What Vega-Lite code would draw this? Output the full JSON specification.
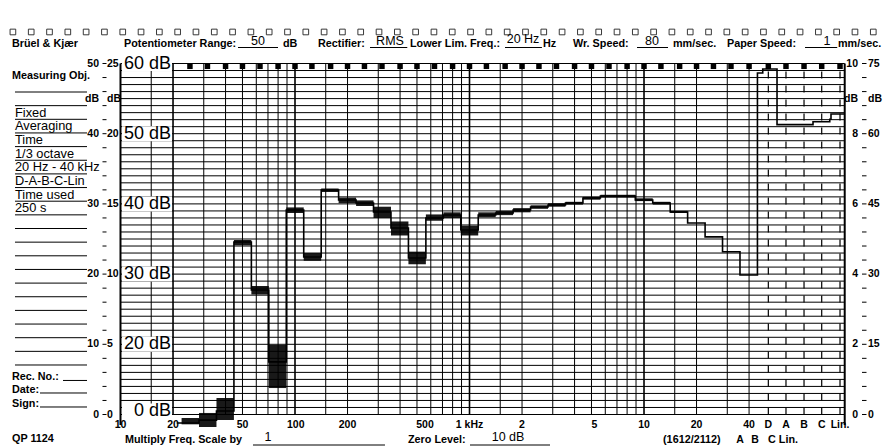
{
"$schema":"https://vega.github.io/schema/vega-lite/v6.json",
"width":890,"height":446,
"autosize":{"type":"fit","contains":"padding"},
"padding":0,
"background":"white",
"config":{"view":{"stroke":null},"axis":{"disable":true},"text":{"font":"Liberation Sans","color":"#000"}},
"datasets":{
"holes":[{"i":0},{"i":1},{"i":2},{"i":3},{"i":4},{"i":5},{"i":6},{"i":7},{"i":8},{"i":9},{"i":10},{"i":11},{"i":12},{"i":13},{"i":14},{"i":15},{"i":16},{"i":17},{"i":18},{"i":19},{"i":20},{"i":21},{"i":22},{"i":23},{"i":24},{"i":25},{"i":26},{"i":27},{"i":28},{"i":29},{"i":30},{"i":31},{"i":32},{"i":33},{"i":34},{"i":35},{"i":36},{"i":37},{"i":38},{"i":39},{"i":40},{"i":41},{"i":42},{"i":43},{"i":44},{"i":45},{"i":46},{"i":47}],
"hlines":[{"db":10},{"db":11},{"db":12},{"db":13},{"db":14},{"db":15},{"db":16},{"db":17},{"db":18},{"db":19},{"db":20},{"db":21},{"db":22},{"db":23},{"db":24},{"db":25},{"db":26},{"db":27},{"db":28},{"db":29},{"db":30},{"db":31},{"db":32},{"db":33},{"db":34},{"db":35},{"db":36},{"db":37},{"db":38},{"db":39},{"db":40},{"db":41},{"db":42},{"db":43},{"db":44},{"db":45},{"db":46},{"db":47},{"db":48},{"db":49},{"db":50},{"db":51},{"db":52},{"db":53},{"db":54},{"db":55},{"db":56},{"db":57},{"db":58},{"db":59},{"db":60}],
"vminor":[{"f":15},{"f":30},{"f":40},{"f":50},{"f":60},{"f":70},{"f":80},{"f":90},{"f":150},{"f":200},{"f":300},{"f":400},{"f":500},{"f":600},{"f":700},{"f":800},{"f":900},{"f":1500},{"f":2000},{"f":3000},{"f":4000},{"f":5000},{"f":6000},{"f":7000},{"f":8000},{"f":9000},{"f":15000},{"f":20000},{"f":30000},{"f":40000}],
"vmajor":[{"f":20},{"f":100},{"f":1000},{"f":10000}],
"vedge":[{"f":10},{"f":141300}],
"dashed":[{"f":51570},{"f":65100},{"f":82600},{"f":104300},{"f":132800}],
"marks":[{"fc":25},{"fc":31.5},{"fc":40},{"fc":50},{"fc":63},{"fc":80},{"fc":100},{"fc":125},{"fc":160},{"fc":200},{"fc":250},{"fc":315},{"fc":400},{"fc":500},{"fc":630},{"fc":800},{"fc":1000},{"fc":1250},{"fc":1600},{"fc":2000},{"fc":2500},{"fc":3150},{"fc":4000},{"fc":5000},{"fc":6300},{"fc":8000},{"fc":10000},{"fc":12500},{"fc":16000},{"fc":20000},{"fc":25000},{"fc":31500},{"fc":40000},{"fc":51570},{"fc":65100},{"fc":82600},{"fc":104300},{"fc":132800}],
"biglabels":[{"db":60,"t":"60 dB"},{"db":50,"t":"50 dB"},{"db":40,"t":"40 dB"},{"db":30,"t":"30 dB"},{"db":20,"t":"20 dB"},{"db":10.5,"t":"0 dB"}],
"ticks":[{"db":10},{"db":12},{"db":14},{"db":16},{"db":18},{"db":20},{"db":22},{"db":24},{"db":26},{"db":28},{"db":30},{"db":32},{"db":34},{"db":36},{"db":38},{"db":40},{"db":42},{"db":44},{"db":46},{"db":48},{"db":50},{"db":52},{"db":54},{"db":56},{"db":58},{"db":60}],
"scaleL":[{"db":60,"a":"50","b":"25"},{"db":55,"a":"dB","b":"dB"},{"db":50,"a":"40","b":"20"},{"db":40,"a":"30","b":"15"},{"db":30,"a":"20","b":"10"},{"db":20,"a":"10","b":"5"},{"db":10,"a":"0","b":"0"}],
"scaleR":[{"db":60,"a":"10","b":"75"},{"db":55,"a":"dB","b":"dB"},{"db":50,"a":"8","b":"60"},{"db":40,"a":"6","b":"45"},{"db":30,"a":"4","b":"30"},{"db":20,"a":"2","b":"15"},{"db":10,"a":"0","b":"0"}],
"boldL":[{"t":"Brüel & Kjær","f":2.3891,"db":62.308},{"t":"Potentiometer Range:","f":10.473,"db":62.308},{"t":"dB","f":85.34,"db":62.308},{"t":"Rectifier:","f":135.49,"db":62.308},{"t":"Lower Lim. Freq.:","f":456.1,"db":62.308},{"t":"Hz","f":2637.5,"db":62.308},{"t":"Wr. Speed:","f":3918.5,"db":62.308},{"t":"mm/sec.","f":14661,"db":62.308},{"t":"Paper Speed:","f":29900,"db":62.308},{"t":"mm/sec.","f":129340,"db":62.308},{"t":"Measuring Obj.","f":2.3891,"db":57.792},{"t":"Rec. No.:","f":2.3891,"db":14.915},{"t":"Date:","f":2.3891,"db":13.106},{"t":"Sign:","f":2.3891,"db":11.112},{"t":"QP 1124","f":2.3891,"db":6.083},{"t":"Multiply Freq. Scale by","f":10.611,"db":5.94},{"t":"Zero Level:","f":444.2,"db":5.94},{"t":"(1612/2112)","f":12852,"db":5.94},{"t":"C Lin.","f":51350,"db":5.94}],
"values":[{"t":"50","f":61.38,"db":62.635},{"t":"RMS","f":350.3,"db":62.635},{"t":"20 Hz","f":2026,"db":62.88},{"t":"80","f":11112,"db":62.635},{"t":"1","f":111870,"db":62.635},{"t":"1","f":70.0,"db":6.224},{"t":"10 dB","f":1661.9,"db":6.224}],
"column":[{"t":"Fixed","db":52.41},{"t":"Averaging","db":50.46},{"t":"Time","db":48.52},{"t":"1/3 octave","db":46.57},{"t":"20 Hz - 40 kHz","db":44.63},{"t":"D-A-B-C-Lin","db":42.69},{"t":"Time used","db":40.74},{"t":"250 s","db":38.80}],
"xlabels":[{"t":"10","f":10,"db":8.077},{"t":"20","f":20,"db":8.077},{"t":"50","f":50,"db":8.077},{"t":"100","f":101,"db":8.077},{"t":"200","f":200,"db":8.077},{"t":"500","f":556,"db":8.077},{"t":"1 kHz","f":1000,"db":8.077},{"t":"2","f":2000,"db":8.077},{"t":"5","f":5200,"db":8.077},{"t":"10","f":10000,"db":8.077},{"t":"20","f":20000,"db":8.077},{"t":"40","f":40000,"db":8.077},{"t":"D","f":51570,"db":8.077},{"t":"A","f":65100,"db":8.077},{"t":"B","f":82600,"db":8.077},{"t":"C","f":104300,"db":8.077},{"t":"Lin.","f":132800,"db":8.077},{"t":"A","f":35490,"db":5.94},{"t":"B","f":43262,"db":5.94}],
"ul":[{"x1":47.14,"x2":79.92,"db":62.279},{"x1":268.99,"x2":440,"db":62.279},{"x1":1597.5,"x2":2600,"db":62.279},{"x1":9119,"x2":13727,"db":62.279},{"x1":83693,"x2":128000,"db":62.279},{"x1":57.45,"x2":327.8,"db":5.655},{"x1":1006.6,"x2":2893.1,"db":5.655},
{"x1":2.4855,"x2":6.428,"db":55.940},{"x1":2.4855,"x2":6.428,"db":53.996},{"x1":2.4855,"x2":6.428,"db":52.051},{"x1":2.4855,"x2":6.428,"db":50.107},{"x1":2.4855,"x2":6.428,"db":48.162},{"x1":2.4855,"x2":6.428,"db":46.218},{"x1":2.4855,"x2":6.428,"db":44.274},{"x1":2.4855,"x2":6.428,"db":42.329},{"x1":2.4855,"x2":6.428,"db":40.385},{"x1":2.4855,"x2":6.428,"db":38.440},{"x1":2.4855,"x2":6.428,"db":36.496},{"x1":2.4855,"x2":6.428,"db":34.552},{"x1":2.4855,"x2":6.428,"db":32.607},{"x1":2.4855,"x2":6.428,"db":30.663},{"x1":2.4855,"x2":6.428,"db":28.718},{"x1":2.4855,"x2":6.428,"db":26.774},{"x1":2.4855,"x2":6.428,"db":24.830},{"x1":2.4855,"x2":6.428,"db":22.885},{"x1":2.4855,"x2":6.428,"db":20.941},{"x1":2.4855,"x2":6.428,"db":18.996},{"x1":2.4855,"x2":6.428,"db":17.052},
{"x1":4.683,"x2":6.428,"db":14.85},{"x1":3.457,"x2":6.428,"db":13.063},{"x1":3.457,"x2":6.428,"db":11.07}],
"bands":[
{"i":0,"fl":21,"fh":22.39,"L":8.79,"lo":8.79,"hi":8.79},
{"i":1,"fl":22.39,"fh":28.18,"L":8.79,"lo":8.6,"hi":9.5},
{"i":2,"fl":28.18,"fh":35.48,"L":9.2,"lo":8.22,"hi":10.22},
{"i":3,"fl":35.48,"fh":44.67,"L":10.5,"lo":9.22,"hi":12.35},
{"i":4,"fl":44.67,"fh":56.23,"L":34.57,"lo":34.1,"hi":34.86},
{"i":5,"fl":56.23,"fh":70.79,"L":27.74,"lo":27.1,"hi":28.3},
{"i":6,"fl":70.79,"fh":89.13,"L":17.5,"lo":13.77,"hi":19.9},
{"i":7,"fl":89.13,"fh":112.2,"L":39.13,"lo":38.7,"hi":39.5},
{"i":8,"fl":112.2,"fh":141.3,"L":32.44,"lo":31.9,"hi":33.0},
{"i":9,"fl":141.3,"fh":177.8,"L":41.98,"lo":41.7,"hi":42.2},
{"i":10,"fl":177.8,"fh":223.9,"L":40.56,"lo":40.1,"hi":40.9},
{"i":11,"fl":223.9,"fh":281.8,"L":40.13,"lo":39.7,"hi":40.5},
{"i":12,"fl":281.8,"fh":354.8,"L":38.85,"lo":38.0,"hi":39.6},
{"i":13,"fl":354.8,"fh":446.7,"L":36.57,"lo":35.5,"hi":37.5},
{"i":14,"fl":446.7,"fh":562.3,"L":32.29,"lo":31.4,"hi":33.2},
{"i":15,"fl":562.3,"fh":707.9,"L":37.99,"lo":37.6,"hi":38.5},
{"i":16,"fl":707.9,"fh":891.3,"L":38.42,"lo":38.0,"hi":38.8},
{"i":17,"fl":891.3,"fh":1122,"L":36.28,"lo":35.5,"hi":36.9},
{"i":18,"fl":1122,"fh":1413,"L":38.42,"lo":38.1,"hi":38.8},
{"i":19,"fl":1413,"fh":1778,"L":38.7,"lo":38.4,"hi":39.0},
{"i":20,"fl":1778,"fh":2239,"L":39.13,"lo":38.8,"hi":39.4},
{"i":21,"fl":2239,"fh":2818,"L":39.56,"lo":39.3,"hi":39.8},
{"i":22,"fl":2818,"fh":3548,"L":39.84,"lo":39.6,"hi":40.1},
{"i":23,"fl":3548,"fh":4467,"L":40.13,"lo":39.9,"hi":40.3},
{"i":24,"fl":4467,"fh":5623,"L":40.84,"lo":40.6,"hi":41.0},
{"i":25,"fl":5623,"fh":7079,"L":41.13,"lo":40.9,"hi":41.3},
{"i":26,"fl":7079,"fh":8913,"L":41.13,"lo":40.9,"hi":41.3},
{"i":27,"fl":8913,"fh":11220,"L":40.56,"lo":40.4,"hi":40.8},
{"i":28,"fl":11220,"fh":14130,"L":40.13,"lo":39.9,"hi":40.3},
{"i":29,"fl":14130,"fh":17780,"L":38.85,"lo":38.7,"hi":39.0},
{"i":30,"fl":17780,"fh":22390,"L":37.28,"lo":37.28,"hi":37.28},
{"i":31,"fl":22390,"fh":28180,"L":35.3,"lo":35.3,"hi":35.3},
{"i":32,"fl":28180,"fh":35480,"L":33.19,"lo":33.19,"hi":33.19},
{"i":33,"fl":35480,"fh":44670,"L":29.87,"lo":29.87,"hi":29.87},
{"i":34,"fl":44670,"fh":47900,"L":58.65,"lo":58.65,"hi":58.65},
{"i":35,"fl":47900,"fh":57840,"L":59.22,"lo":59.22,"hi":59.22},
{"i":36,"fl":57840,"fh":93000,"L":51.3,"lo":51.3,"hi":51.3},
{"i":37,"fl":93000,"fh":116000,"L":51.71,"lo":51.71,"hi":51.71},
{"i":38,"fl":116000,"fh":117900,"L":52.05,"lo":52.05,"hi":52.05},
{"i":39,"fl":117900,"fh":141300,"L":52.81,"lo":52.81,"hi":52.81}
]
},
"resolve":{"scale":{"x":"independent"}},
"layer":[
{"data":{"name":"holes"},"mark":{"type":"point","shape":"M-1,-1H1V1H-1Z","filled":false,"stroke":"#222","strokeWidth":0.9,"size":32,"opacity":1},
 "encoding":{"x":{"field":"i","type":"quantitative","scale":{"domain":[-0.7047,47.913],"nice":false,"zero":false}},
 "y":{"datum":64.49,"type":"quantitative","scale":{"domain":[5.513,69.046],"nice":false,"zero":false}}}},
{"layer":[
{"mark":{"type":"rule","stroke":"#777","strokeWidth":1},"encoding":{"x":{"datum":2.3268,"type":"quantitative","scale":{"type":"log","domain":[2.0394,256830],"nice":false}},"x2":{"datum":245200},"y":{"datum":67.692,"type":"quantitative","scale":{"domain":[5.513,69.046],"nice":false,"zero":false}}}},
{"mark":{"type":"rule","stroke":"#000","strokeWidth":3},"encoding":{"x":{"datum":2.3268,"type":"quantitative","scale":{"type":"log","domain":[2.0394,256830],"nice":false}},"y":{"datum":67.692,"type":"quantitative","scale":{"domain":[5.513,69.046],"nice":false,"zero":false}},"y2":{"datum":5.513}}},
{"mark":{"type":"rule","stroke":"#000","strokeWidth":3},"encoding":{"x":{"datum":245200,"type":"quantitative","scale":{"type":"log","domain":[2.0394,256830],"nice":false}},"y":{"datum":67.692,"type":"quantitative","scale":{"domain":[5.513,69.046],"nice":false,"zero":false}},"y2":{"datum":5.513}}},
{"data":{"name":"hlines"},"mark":{"type":"rule","stroke":"#000","strokeWidth":1},"encoding":{"x":{"datum":10,"type":"quantitative","scale":{"type":"log","domain":[2.0394,256830],"nice":false}},"x2":{"datum":141300},"y":{"field":"db","type":"quantitative","scale":{"domain":[5.513,69.046],"nice":false,"zero":false}}}},
{"data":{"name":"vminor"},"mark":{"type":"rule","stroke":"#000","strokeWidth":1},"encoding":{"x":{"field":"f","type":"quantitative","scale":{"type":"log","domain":[2.0394,256830],"nice":false}},"y":{"datum":10,"type":"quantitative","scale":{"domain":[5.513,69.046],"nice":false,"zero":false}},"y2":{"datum":60}}},
{"data":{"name":"vmajor"},"mark":{"type":"rule","stroke":"#000","strokeWidth":1.6},"encoding":{"x":{"field":"f","type":"quantitative","scale":{"type":"log","domain":[2.0394,256830],"nice":false}},"y":{"datum":10,"type":"quantitative","scale":{"domain":[5.513,69.046],"nice":false,"zero":false}},"y2":{"datum":60}}},
{"data":{"name":"vedge"},"mark":{"type":"rule","stroke":"#000","strokeWidth":2},"encoding":{"x":{"field":"f","type":"quantitative","scale":{"type":"log","domain":[2.0394,256830],"nice":false}},"y":{"datum":8.504,"type":"quantitative","scale":{"domain":[5.513,69.046],"nice":false,"zero":false}},"y2":{"datum":60}}},
{"data":{"name":"dashed"},"mark":{"type":"rule","stroke":"#000","strokeWidth":1.2,"strokeDash":[7,7]},"encoding":{"x":{"field":"f","type":"quantitative","scale":{"type":"log","domain":[2.0394,256830],"nice":false}},"y":{"datum":10,"type":"quantitative","scale":{"domain":[5.513,69.046],"nice":false,"zero":false}},"y2":{"datum":59.217}}},
{"mark":{"type":"rule","stroke":"#000","strokeWidth":1.5},"encoding":{"x":{"datum":20,"type":"quantitative","scale":{"type":"log","domain":[2.0394,256830],"nice":false}},"x2":{"datum":141300},"y":{"datum":59.217,"type":"quantitative","scale":{"domain":[5.513,69.046],"nice":false,"zero":false}}}},
{"mark":{"type":"rule","stroke":"#000","strokeWidth":1.5},"encoding":{"x":{"datum":141300,"type":"quantitative","scale":{"type":"log","domain":[2.0394,256830],"nice":false}},"x2":{"datum":197290},"y":{"datum":8.504,"type":"quantitative","scale":{"domain":[5.513,69.046],"nice":false,"zero":false}}}},
{"data":{"name":"marks"},"mark":{"type":"point","shape":"M-1,-1H1V1H-1Z","filled":true,"fill":"#000","stroke":null,"size":30,"opacity":1},"encoding":{"x":{"field":"fc","type":"quantitative","scale":{"type":"log","domain":[2.0394,256830],"nice":false}},"y":{"datum":59.6,"type":"quantitative","scale":{"domain":[5.513,69.046],"nice":false,"zero":false}}}},
{"data":{"name":"biglabels"},"mark":{"type":"point","shape":"M-1,-0.3H1V0.3H-1Z","filled":true,"fill":"#fff","stroke":null,"size":2500,"opacity":1},"encoding":{"x":{"datum":14.188,"type":"quantitative","scale":{"type":"log","domain":[2.0394,256830],"nice":false}},"y":{"field":"db","type":"quantitative","scale":{"domain":[5.513,69.046],"nice":false,"zero":false}}}},
{"data":{"name":"biglabels"},"mark":{"type":"text","fontSize":18,"align":"right","baseline":"middle"},"encoding":{"x":{"datum":19.47,"type":"quantitative","scale":{"type":"log","domain":[2.0394,256830],"nice":false}},"y":{"field":"db","type":"quantitative","scale":{"domain":[5.513,69.046],"nice":false,"zero":false}},"text":{"field":"t"}}},
{"mark":{"type":"rule","stroke":"#000","strokeWidth":1},"encoding":{"x":{"datum":7.886,"type":"quantitative","scale":{"type":"log","domain":[2.0394,256830],"nice":false}},"y":{"datum":10,"type":"quantitative","scale":{"domain":[5.513,69.046],"nice":false,"zero":false}},"y2":{"datum":60}}},
{"mark":{"type":"rule","stroke":"#000","strokeWidth":1},"encoding":{"x":{"datum":188380,"type":"quantitative","scale":{"type":"log","domain":[2.0394,256830],"nice":false}},"y":{"datum":10,"type":"quantitative","scale":{"domain":[5.513,69.046],"nice":false,"zero":false}},"y2":{"datum":60}}},
{"data":{"name":"ticks"},"mark":{"type":"rule","stroke":"#000","strokeWidth":1},"encoding":{"x":{"datum":7.886,"type":"quantitative","scale":{"type":"log","domain":[2.0394,256830],"nice":false}},"x2":{"datum":8.314},"y":{"field":"db","type":"quantitative","scale":{"domain":[5.513,69.046],"nice":false,"zero":false}}}},
{"data":{"name":"ticks"},"mark":{"type":"rule","stroke":"#000","strokeWidth":1},"encoding":{"x":{"datum":177530,"type":"quantitative","scale":{"type":"log","domain":[2.0394,256830],"nice":false}},"x2":{"datum":188380},"y":{"field":"db","type":"quantitative","scale":{"domain":[5.513,69.046],"nice":false,"zero":false}}}},
{"data":{"name":"scaleL"},"mark":{"type":"text","fontSize":10.5,"fontWeight":"bold","align":"right","baseline":"middle"},"encoding":{"x":{"datum":7.53,"type":"quantitative","scale":{"type":"log","domain":[2.0394,256830],"nice":false}},"y":{"field":"db","type":"quantitative","scale":{"domain":[5.513,69.046],"nice":false,"zero":false}},"text":{"field":"a"}}},
{"data":{"name":"scaleL"},"mark":{"type":"text","fontSize":10.5,"fontWeight":"bold","align":"left","baseline":"middle"},"encoding":{"x":{"datum":8.369,"type":"quantitative","scale":{"type":"log","domain":[2.0394,256830],"nice":false}},"y":{"field":"db","type":"quantitative","scale":{"domain":[5.513,69.046],"nice":false,"zero":false}},"text":{"field":"b"}}},
{"data":{"name":"scaleR"},"mark":{"type":"text","fontSize":10.5,"fontWeight":"bold","align":"right","baseline":"middle"},"encoding":{"x":{"datum":168400,"type":"quantitative","scale":{"type":"log","domain":[2.0394,256830],"nice":false}},"y":{"field":"db","type":"quantitative","scale":{"domain":[5.513,69.046],"nice":false,"zero":false}},"text":{"field":"a"}}},
{"data":{"name":"scaleR"},"mark":{"type":"text","fontSize":10.5,"fontWeight":"bold","align":"left","baseline":"middle"},"encoding":{"x":{"datum":192150,"type":"quantitative","scale":{"type":"log","domain":[2.0394,256830],"nice":false}},"y":{"field":"db","type":"quantitative","scale":{"domain":[5.513,69.046],"nice":false,"zero":false}},"text":{"field":"b"}}},
{"data":{"name":"ul"},"mark":{"type":"rule","stroke":"#000","strokeWidth":1},"encoding":{"x":{"field":"x1","type":"quantitative","scale":{"type":"log","domain":[2.0394,256830],"nice":false}},"x2":{"field":"x2"},"y":{"field":"db","type":"quantitative","scale":{"domain":[5.513,69.046],"nice":false,"zero":false}}}},
{"data":{"name":"boldL"},"mark":{"type":"text","fontSize":10.8,"fontWeight":"bold","align":"left","baseline":"alphabetic"},"encoding":{"x":{"field":"f","type":"quantitative","scale":{"type":"log","domain":[2.0394,256830],"nice":false}},"y":{"field":"db","type":"quantitative","scale":{"domain":[5.513,69.046],"nice":false,"zero":false}},"text":{"field":"t"}}},
{"data":{"name":"values"},"mark":{"type":"text","fontSize":12.5,"align":"center","baseline":"alphabetic"},"encoding":{"x":{"field":"f","type":"quantitative","scale":{"type":"log","domain":[2.0394,256830],"nice":false}},"y":{"field":"db","type":"quantitative","scale":{"domain":[5.513,69.046],"nice":false,"zero":false}},"text":{"field":"t"}}},
{"data":{"name":"column"},"mark":{"type":"text","fontSize":12.8,"align":"left","baseline":"alphabetic"},"encoding":{"x":{"datum":2.4855,"type":"quantitative","scale":{"type":"log","domain":[2.0394,256830],"nice":false}},"y":{"field":"db","type":"quantitative","scale":{"domain":[5.513,69.046],"nice":false,"zero":false}},"text":{"field":"t"}}},
{"data":{"name":"xlabels"},"mark":{"type":"text","fontSize":10.5,"fontWeight":"bold","align":"center","baseline":"alphabetic"},"encoding":{"x":{"field":"f","type":"quantitative","scale":{"type":"log","domain":[2.0394,256830],"nice":false}},"y":{"field":"db","type":"quantitative","scale":{"domain":[5.513,69.046],"nice":false,"zero":false}},"text":{"field":"t"}}},
{"mark":{"type":"text","fontSize":12,"fontStyle":"italic","align":"left","baseline":"alphabetic"},"encoding":{"x":{"datum":93000,"type":"quantitative","scale":{"type":"log","domain":[2.0394,256830],"nice":false}},"y":{"datum":5.94,"type":"quantitative","scale":{"domain":[5.513,69.046],"nice":false,"zero":false}},"text":{"value":"791007/1e"}}},
{"data":{"name":"bands"},"transform":[{"filter":"datum.hi > datum.lo"}],"mark":{"type":"rect","color":"#000","opacity":0.9},"encoding":{"x":{"field":"fl","type":"quantitative","scale":{"type":"log","domain":[2.0394,256830],"nice":false}},"x2":{"field":"fh"},"y":{"field":"lo","type":"quantitative","scale":{"domain":[5.513,69.046],"nice":false,"zero":false}},"y2":{"field":"hi"}}},
{"data":{"name":"bands"},"transform":[{"fold":["fl","fh"],"as":["k","fx"]}],"mark":{"type":"line","stroke":"#000","strokeWidth":1.6},"encoding":{"x":{"field":"fx","type":"quantitative","scale":{"type":"log","domain":[2.0394,256830],"nice":false}},"y":{"field":"L","type":"quantitative","scale":{"domain":[5.513,69.046],"nice":false,"zero":false}},"order":[{"field":"i","type":"quantitative"},{"field":"fx","type":"quantitative"}]}}
]}
]
}
